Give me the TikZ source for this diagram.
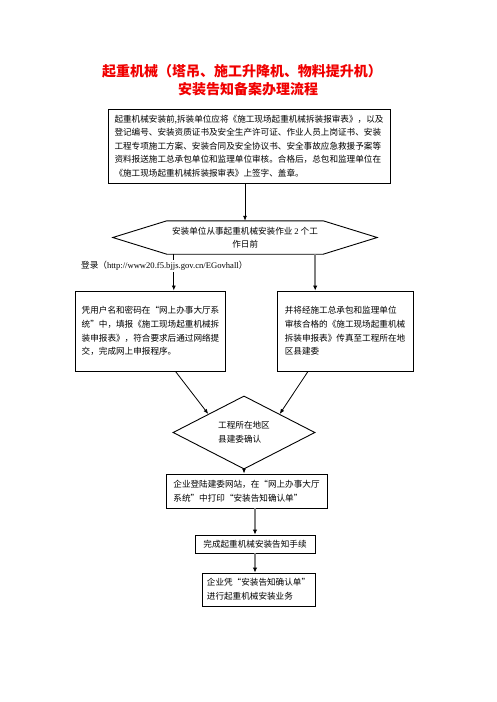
\documentclass[tikz,border=0pt]{standalone}
\usepackage{fontspec}
\newfontfamily\cjk{Noto Sans CJK SC}
\newfontfamily\lat{Liberation Serif}
\usetikzlibrary{shapes.geometric,arrows.meta,calc}
\definecolor{titlered}{RGB}{240,0,0}
\definecolor{linegray}{RGB}{128,128,128}
\begin{document}
\begin{tikzpicture}[x=1pt,y=-1pt,
  txt/.style={font=\cjk\fontsize{8.6}{13.6}\selectfont, align=left},
  box/.style={txt, draw, line width=0.9pt, inner sep=0pt},
  arr/.style={line width=0.8pt, -{Latex[length=5pt,width=4pt]}},
  garr/.style={line width=1.8pt, draw=linegray, -{Latex[length=5pt,width=4.5pt,color=black]}},
  ttl/.style={font=\cjk\bfseries\fontsize{14}{16}\selectfont, text=titlered}
]
\useasboundingbox (0,0) rectangle (496,702);
\node[ttl] (t1) at (242,71) {起重机械（塔吊、施工升降机、物料提升机）};
\node[ttl] (t2) at (248,89) {安装告知备案办理流程};

\node[box, minimum width=282, minimum height=74] (b1) at (249,146)
{起重机械安装前,拆装单位应将《施工现场起重机械拆装报审表》，以及\\
登记编号、安装资质证书及安全生产许可证、作业人员上岗证书、安装\\
工程专项施工方案、安装合同及安全协议书、安全事故应急救援予案等\\
资料报送施工总承包单位和监理单位审核。合格后，总包和监理单位在\\
《施工现场起重机械拆装报审表》上签字、盖章。};

\node[txt, minimum width=156, minimum height=33, inner sep=0pt] (hex) at (245,237.5)
{安装单位从事起重机械安装作业 {\lat 2} 个工\\\hspace*{7em}作日前};
\draw[line width=0.9pt] (hex.north west) -- (hex.north east) -- ([xshift=54]hex.east)
  -- (hex.south east) -- (hex.south west) -- ([xshift=-54]hex.west) -- cycle;

\node[box, minimum width=150, minimum height=80] (lb) at (150.5,331)
{凭用户名和密码在“网上办事大厅系\\统”中，填报《施工现场起重机械拆\\装申报表》，符合要求后通过网络提\\交，完成网上申报程序。};
\node[box, minimum width=136, minimum height=80] (rb) at (345,331)
{并将经施工总承包和监理单位\\审核合格的《施工现场起重机械\\拆装申报表》传真至工程所在地\\区县建委\hspace*{10em}};

\node[diamond, draw, line width=0.9pt, minimum width=142, minimum height=59, inner sep=0pt,
  txt] (dia) at (244,432.5) {工程所在地区\\县建委确认};

\node[box, minimum width=161, minimum height=34] (b5) at (246.5,491)
{企业登陆建委网站，在“网上办事大厅\\系统”中打印“安装告知确认单”};
\node[box, minimum width=120, minimum height=18] (b6) at (255,544) {完成起重机械安装告知手续};
\node[box, minimum width=113, minimum height=33] (b7) at (258.5,589.5)
{企业凭“安装告知确认单”\\进行起重机械安装业务};

\draw[arr] (b1.south -| hex.north) -- (hex.north);
\draw[arr] ([xshift=7]hex.south west) -- ([xshift=7]hex.south west |- lb.north);
\node[txt, fill=white, inner sep=1pt, anchor=west] (url) at (80,266)
{登录（{\lat http://www20.f5.bjjs.gov.cn/EGovhall}）};
\draw[garr] ([xshift=-8]hex.south east) -- ([xshift=-8]hex.south east |- rb.north);
\draw[arr] ([xshift=25]lb.south) -- (dia.north west);
\draw[arr] ([xshift=-37]rb.south) -- (dia.north east);
\draw[arr] (dia.south) -- (dia.south |- b5.north);
\draw[garr] (b6.north |- b5.south) -- (b6.north);
\draw[garr] (b6.south) -- (b6.south |- b7.north);
\end{tikzpicture}
\end{document}
